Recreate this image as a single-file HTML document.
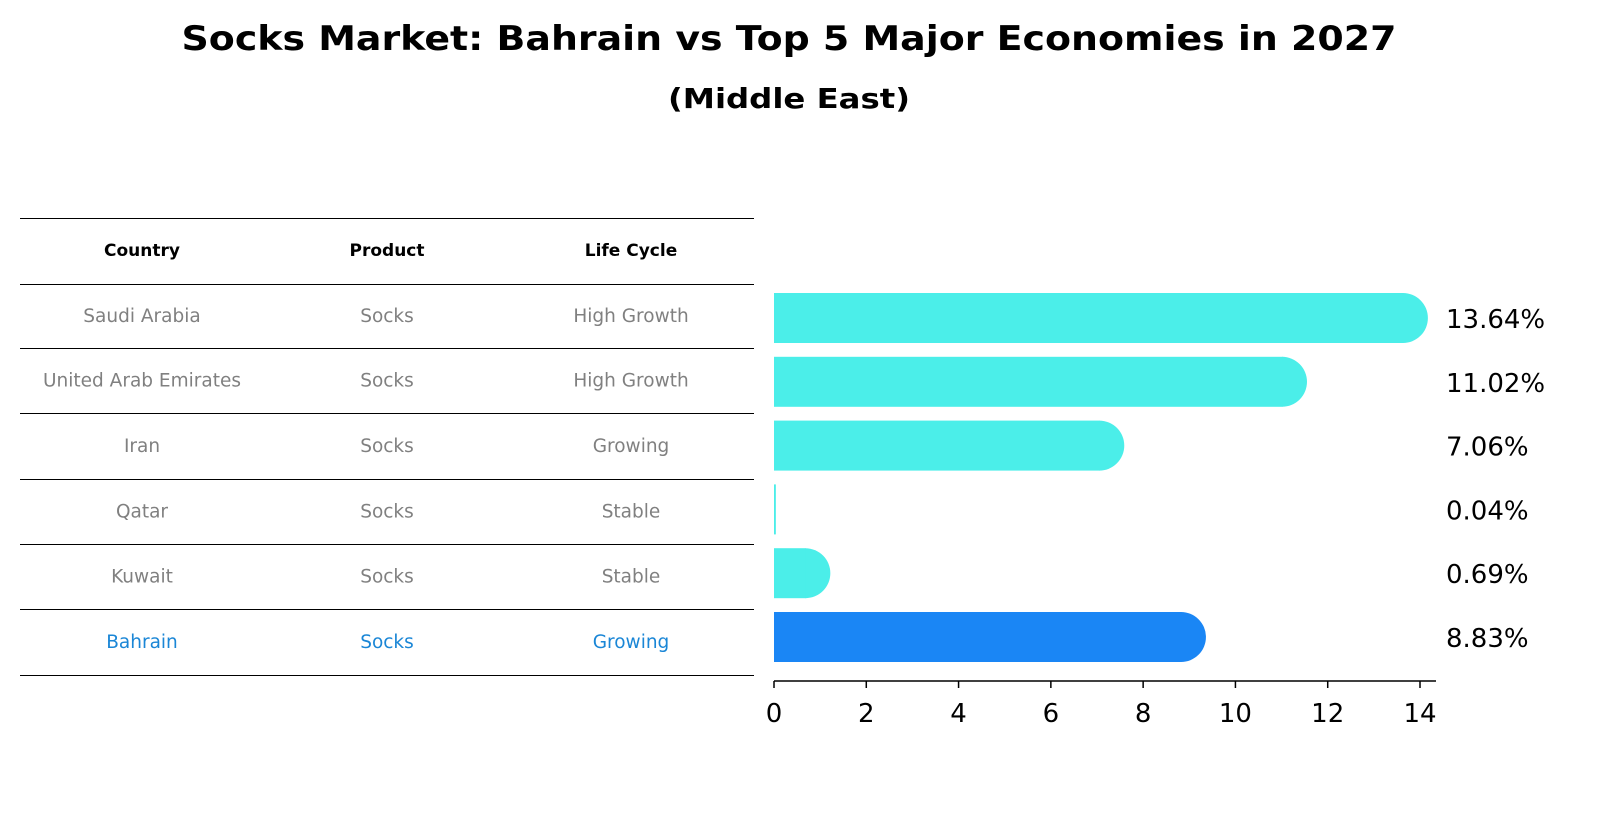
<!DOCTYPE html>
<html><head><meta charset="utf-8"><style>
body{margin:0;background:#fff;width:1604px;height:823px;overflow:hidden;font-family:"Liberation Sans","DejaVu Sans",sans-serif}
</style></head><body>
<svg width="1604" height="823" xmlns="http://www.w3.org/2000/svg" style="font-family:'DejaVu Sans','Liberation Sans',sans-serif">
<text x="789" y="50" text-anchor="middle" font-size="34" font-weight="bold" textLength="1215" lengthAdjust="spacingAndGlyphs">Socks Market: Bahrain vs Top 5 Major Economies in 2027</text>
<text x="789" y="108" text-anchor="middle" font-size="28" font-weight="bold" textLength="242" lengthAdjust="spacingAndGlyphs">(Middle East)</text>
<g id="table"></g>
<g id="bars"></g>
</svg>
<script>
const countries=["Saudi Arabia","United Arab Emirates","Iran","Qatar","Kuwait","Bahrain"];
const products=["Socks","Socks","Socks","Socks","Socks","Socks"];
const lifecycle=["High Growth","High Growth","Growing","Stable","Stable","Growing"];
const values=[13.64,11.02,7.06,0.04,0.69,8.83];
const ticks=[0,2,4,6,8,10,12,14];
const NS="http://www.w3.org/2000/svg";
function mk(t,a,p){const e=document.createElementNS(NS,t);for(const k in a)e.setAttribute(k,a[k]);p.appendChild(e);return e;}
const tbl=document.getElementById('table');
const lineYs=[218,284,348,413,479,544,609,675];
lineYs.forEach(y=>{const l=mk('line',{x1:20,x2:754,y1:y+0.5,y2:y+0.5,stroke:'#000','stroke-width':1},tbl);

});
const colX=[142,387,631];
["Country","Product","Life Cycle"].forEach((h,i)=>{const t=mk('text',{x:colX[i],y:256,'text-anchor':'middle','font-size':17,'font-weight':'bold'},tbl);t.textContent=h;

});
countries.forEach((c,r)=>{const y=(lineYs[r+1]+lineYs[r+2])/2+6;const col=r===5?'#1a86d6':'#808080';
[c,products[r],lifecycle[r]].forEach((v,i)=>{const t=mk('text',{x:colX[i],y:y,'text-anchor':'middle','font-size':18.5,fill:col},tbl);t.textContent=v;

});});
const g=document.getElementById('bars');
const x0=774,pxPer=(1420-774)/14;
const X=v=>x0+v*pxPer;
const Y=i=>318+i*63.8;
const bh=50,R=25;
values.forEach((v,i)=>{const cy=Y(i);const col=i===5?'#1a86f5':'#4beee9';
const w=Math.max(X(v)-x0,1.5);
const r=mk('rect',{x:x0,y:cy-bh/2,width:w,height:bh,fill:col},g);


if(v>=0.1){const cp=mk('path',{d:`M${X(v)-0.5},${cy-R} A${R},${R} 0 0 1 ${X(v)-0.5},${cy+R} Z`,fill:col},g);

}
const t=mk('text',{x:1446,y:cy+10,'font-size':26},g);t.textContent=v.toFixed(2)+'%';

});
const ax=mk('line',{x1:x0,x2:1436,y1:681,y2:681,stroke:'#000','stroke-width':1.5},g);


ticks.forEach(v=>{const l=mk('line',{x1:X(v),x2:X(v),y1:681,y2:688,stroke:'#000','stroke-width':1.5},g);


const t=mk('text',{x:X(v),y:722,'text-anchor':'middle','font-size':26},g);t.textContent=v;

});
</script>
</body></html>
